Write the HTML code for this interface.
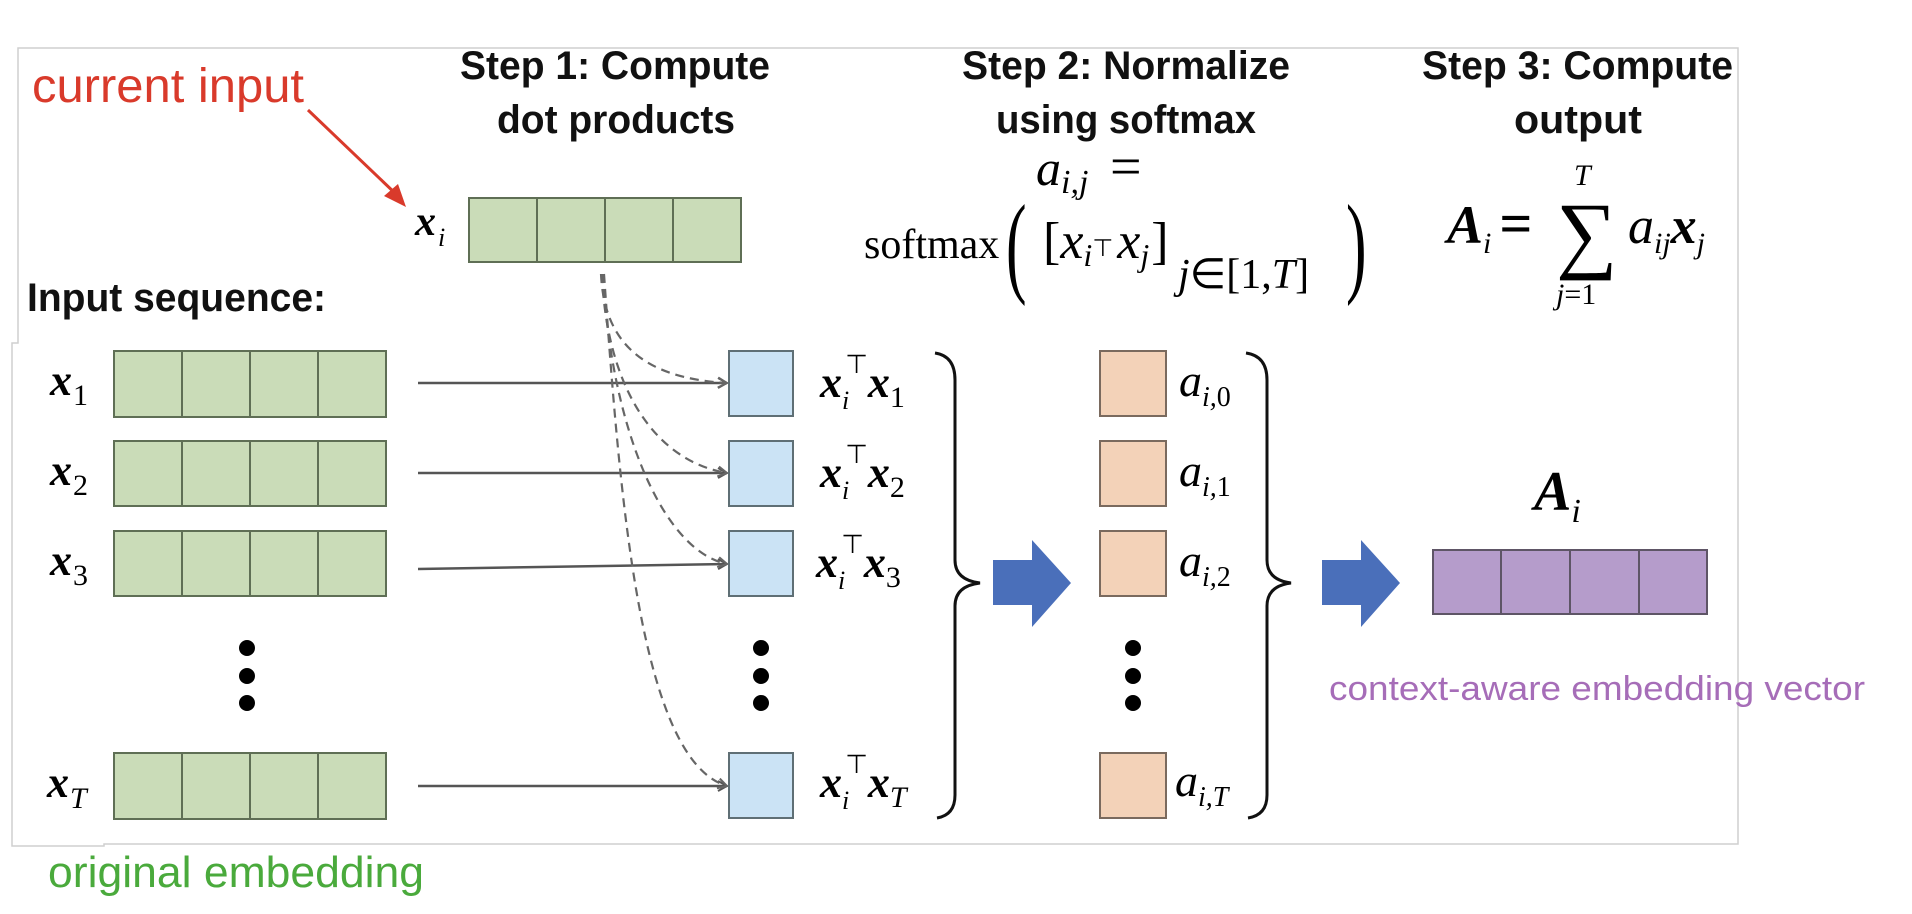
<!DOCTYPE html>
<html><head><meta charset="utf-8"><style>
html,body{margin:0;padding:0;background:#fff;}
svg{display:block;}
.t{font-family:"Liberation Sans",sans-serif;font-weight:bold;font-size:40px;fill:#111;}
.m{font-family:"Liberation Serif",serif;fill:#000;}
</style></head><body>
<svg width="1912" height="914" viewBox="0 0 1912 914" xmlns="http://www.w3.org/2000/svg">
<defs>
<marker id="ah" markerWidth="12" markerHeight="12" refX="10" refY="6" orient="auto" markerUnits="userSpaceOnUse">
<path d="M1,1 L10,6 L1,11" fill="none" stroke="#555" stroke-width="2"/></marker>
<marker id="ahd" markerWidth="12" markerHeight="12" refX="10" refY="6" orient="auto" markerUnits="userSpaceOnUse">
<path d="M1,1 L10,6 L1,11" fill="none" stroke="#666" stroke-width="2"/></marker>
</defs>
<path d="M18,48 H1738 V844 H104 V846 H12 V343 H18 Z" fill="none" stroke="#cfcfcf" stroke-width="1.5"/>

<text class="t" x="460" y="79" textLength="310" lengthAdjust="spacingAndGlyphs">Step 1: Compute</text>
<text class="t" x="497" y="133" textLength="238" lengthAdjust="spacingAndGlyphs">dot products</text>
<text class="t" x="962" y="79" textLength="328" lengthAdjust="spacingAndGlyphs">Step 2: Normalize</text>
<text class="t" x="996" y="133" textLength="260" lengthAdjust="spacingAndGlyphs">using softmax</text>
<text class="t" x="1422" y="79" textLength="311" lengthAdjust="spacingAndGlyphs">Step 3: Compute</text>
<text class="t" x="1514" y="133" textLength="128" lengthAdjust="spacingAndGlyphs">output</text>
<text class="t" x="27" y="311" textLength="299" lengthAdjust="spacingAndGlyphs">Input sequence:</text>

<text x="32" y="102" font-family="Liberation Sans,sans-serif" font-size="48" fill="#d93a2b" textLength="272" lengthAdjust="spacingAndGlyphs">current input</text>
<line x1="308" y1="110" x2="398" y2="196" stroke="#d93a2b" stroke-width="3"/>
<polygon points="406,207 384,196 398,184" fill="#d93a2b"/>

<text class="m" x="415" y="235" font-size="42" font-weight="bold" font-style="italic">x</text>
<text class="m" x="438" y="246" font-size="26" font-style="italic">i</text>
<g fill="#cadcb8" stroke="#5f6f55" stroke-width="2">
<rect x="469" y="198" width="68" height="64"/><rect x="537" y="198" width="68" height="64"/><rect x="605" y="198" width="68" height="64"/><rect x="673" y="198" width="68" height="64"/>
</g>

<g fill="#cadcb8" stroke="#5f6f55" stroke-width="2">
<rect x="114" y="351" width="68" height="66"/><rect x="182" y="351" width="68" height="66"/><rect x="250" y="351" width="68" height="66"/><rect x="318" y="351" width="68" height="66"/>
<rect x="114" y="441" width="68" height="65"/><rect x="182" y="441" width="68" height="65"/><rect x="250" y="441" width="68" height="65"/><rect x="318" y="441" width="68" height="65"/>
<rect x="114" y="531" width="68" height="65"/><rect x="182" y="531" width="68" height="65"/><rect x="250" y="531" width="68" height="65"/><rect x="318" y="531" width="68" height="65"/>
<rect x="114" y="753" width="68" height="66"/><rect x="182" y="753" width="68" height="66"/><rect x="250" y="753" width="68" height="66"/><rect x="318" y="753" width="68" height="66"/>
</g>
<g class="m" font-size="44" font-weight="bold" font-style="italic">
<text x="50" y="395">x</text><text x="50" y="485">x</text><text x="50" y="575">x</text><text x="47" y="797">x</text>
</g>
<g class="m" font-size="30">
<text x="73" y="405">1</text><text x="73" y="495">2</text><text x="73" y="585">3</text><text x="70" y="808" font-style="italic">T</text>
</g>

<g fill="#000">
<circle cx="247" cy="648" r="8"/><circle cx="247" cy="676" r="8"/><circle cx="247" cy="703" r="8"/>
<circle cx="761" cy="648" r="8"/><circle cx="761" cy="676" r="8"/><circle cx="761" cy="703" r="8"/>
<circle cx="1133" cy="648" r="8"/><circle cx="1133" cy="676" r="8"/><circle cx="1133" cy="703" r="8"/>
</g>

<g stroke="#555" stroke-width="2.5" fill="none" marker-end="url(#ah)">
<line x1="418" y1="383" x2="727" y2="383"/>
<line x1="418" y1="473" x2="727" y2="473"/>
<line x1="418" y1="569" x2="727" y2="564"/>
<line x1="418" y1="786" x2="727" y2="786"/>
</g>
<g stroke="#666" stroke-width="2.2" fill="none" stroke-dasharray="9,6" marker-end="url(#ahd)">
<path d="M601,274 C604,340 640,378 727,383"/>
<path d="M602,274 C606,380 650,460 727,473"/>
<path d="M603,274 C610,420 660,550 727,564"/>
<path d="M604,274 C620,500 640,760 727,786"/>
</g>

<g fill="#cbe3f5" stroke="#5f6f75" stroke-width="2">
<rect x="729" y="351" width="64" height="65"/><rect x="729" y="441" width="64" height="65"/><rect x="729" y="531" width="64" height="65"/><rect x="729" y="753" width="64" height="65"/>
</g>
<g class="m" font-size="44">
<text x="820" y="397"><tspan font-weight="bold" font-style="italic">x</tspan><tspan font-size="26" font-style="italic" dy="12">i</tspan><tspan font-family="Liberation Sans,sans-serif" font-size="26" dx="-4" dy="-36">⊤</tspan><tspan font-weight="bold" font-style="italic" dy="24">x</tspan><tspan font-size="30" dy="10">1</tspan></text>
<text x="820" y="487"><tspan font-weight="bold" font-style="italic">x</tspan><tspan font-size="26" font-style="italic" dy="12">i</tspan><tspan font-family="Liberation Sans,sans-serif" font-size="26" dx="-4" dy="-36">⊤</tspan><tspan font-weight="bold" font-style="italic" dy="24">x</tspan><tspan font-size="30" dy="10">2</tspan></text>
<text x="816" y="577"><tspan font-weight="bold" font-style="italic">x</tspan><tspan font-size="26" font-style="italic" dy="12">i</tspan><tspan font-family="Liberation Sans,sans-serif" font-size="26" dx="-4" dy="-36">⊤</tspan><tspan font-weight="bold" font-style="italic" dy="24">x</tspan><tspan font-size="30" dy="10">3</tspan></text>
<text x="820" y="797"><tspan font-weight="bold" font-style="italic">x</tspan><tspan font-size="26" font-style="italic" dy="12">i</tspan><tspan font-family="Liberation Sans,sans-serif" font-size="26" dx="-4" dy="-36">⊤</tspan><tspan font-weight="bold" font-style="italic" dy="24">x</tspan><tspan font-size="30" font-style="italic" dy="10">T</tspan></text>
</g>

<g fill="none" stroke="#111" stroke-width="3">
<path d="M935,353 Q955,356 955,380 L955,560 Q955,580 980,583 Q955,586 955,606 L955,795 Q955,815 937,818"/>
<path d="M1246,353 Q1267,356 1267,380 L1267,560 Q1267,580 1291,583 Q1267,586 1267,606 L1267,795 Q1267,815 1248,818"/>
</g>

<polygon points="993,560 1032,560 1032,540 1071,583 1032,627 1032,605 993,605" fill="#4a6fba"/>
<polygon points="1322,560 1361,560 1361,540 1400,583 1361,627 1361,605 1322,605" fill="#4a6fba"/>

<g fill="#f3d2b8" stroke="#7a6a5e" stroke-width="2">
<rect x="1100" y="351" width="66" height="65"/><rect x="1100" y="441" width="66" height="65"/><rect x="1100" y="531" width="66" height="65"/><rect x="1100" y="753" width="66" height="65"/>
</g>
<g class="m" font-style="italic">
<text x="1179" y="396" font-size="46">a<tspan font-size="28" dy="10">i,</tspan><tspan font-size="28" font-style="normal">0</tspan></text>
<text x="1179" y="486" font-size="46">a<tspan font-size="28" dy="10">i,</tspan><tspan font-size="28" font-style="normal">1</tspan></text>
<text x="1179" y="576" font-size="46">a<tspan font-size="28" dy="10">i,</tspan><tspan font-size="28" font-style="normal">2</tspan></text>
<text x="1175" y="796" font-size="46">a<tspan font-size="28" dy="10">i,T</tspan></text>
</g>

<g fill="#b59ccb" stroke="#5e5566" stroke-width="2">
<rect x="1433" y="550" width="68" height="64"/><rect x="1501" y="550" width="69" height="64"/><rect x="1570" y="550" width="69" height="64"/><rect x="1639" y="550" width="68" height="64"/>
</g>
<text class="m" x="1534" y="510" font-size="56" font-weight="bold" font-style="italic">A<tspan font-size="34" font-weight="normal" dy="12">i</tspan></text>
<text x="1329" y="700" font-family="Liberation Sans,sans-serif" font-size="34" fill="#a66db8" textLength="536" lengthAdjust="spacingAndGlyphs">context-aware embedding vector</text>
<text x="48" y="887" font-family="Liberation Sans,sans-serif" font-size="44" fill="#4aaa3c" textLength="376" lengthAdjust="spacingAndGlyphs">original embedding</text>

<!-- formulas -->
<text class="m" x="1036" y="185" font-size="50" font-style="italic">a<tspan font-size="34" dy="8">i,j</tspan></text>
<text class="m" x="1110" y="185" font-size="56">=</text>
<text class="m" x="864" y="258" font-size="42">softmax</text>
<text class="m" x="1006" y="282" font-size="112" transform="translate(1006,282) scale(0.55,1) translate(-1006,-282)">(</text>
<text class="m" x="1043" y="258" font-size="52">[<tspan font-style="italic">x</tspan><tspan font-style="italic" font-size="32" dy="8">i</tspan><tspan font-size="24" font-family="Liberation Sans,sans-serif" dy="-10">⊤</tspan><tspan font-style="italic" dx="4" dy="2">x</tspan><tspan font-style="italic" font-size="32" dy="8">j</tspan><tspan dy="-8" dx="2">]</tspan></text>
<text class="m" x="1178" y="288" font-size="42"><tspan font-style="italic">j</tspan>∈[1,<tspan font-style="italic">T</tspan>]</text>
<text class="m" x="1346" y="282" font-size="112" transform="translate(1346,282) scale(0.55,1) translate(-1346,-282)">)</text>

<text class="m" x="1447" y="243" font-size="54" font-weight="bold" font-style="italic">A<tspan font-size="30" font-weight="normal" dy="10">i</tspan><tspan font-style="normal" font-size="58" dy="-10" dx="8">=</tspan></text>
<text class="m" x="1556" y="262" font-size="86">∑</text>
<text class="m" x="1574" y="185" font-size="30" font-style="italic">T</text>
<text class="m" x="1556" y="304" font-size="30"><tspan font-style="italic">j</tspan>=1</text>
<text class="m" x="1628" y="243" font-size="52" font-style="italic">a<tspan font-size="30" dy="10">ij</tspan><tspan font-weight="bold" dy="-10">x</tspan><tspan font-size="30" dy="10">j</tspan></text>
</svg>
</body></html>
